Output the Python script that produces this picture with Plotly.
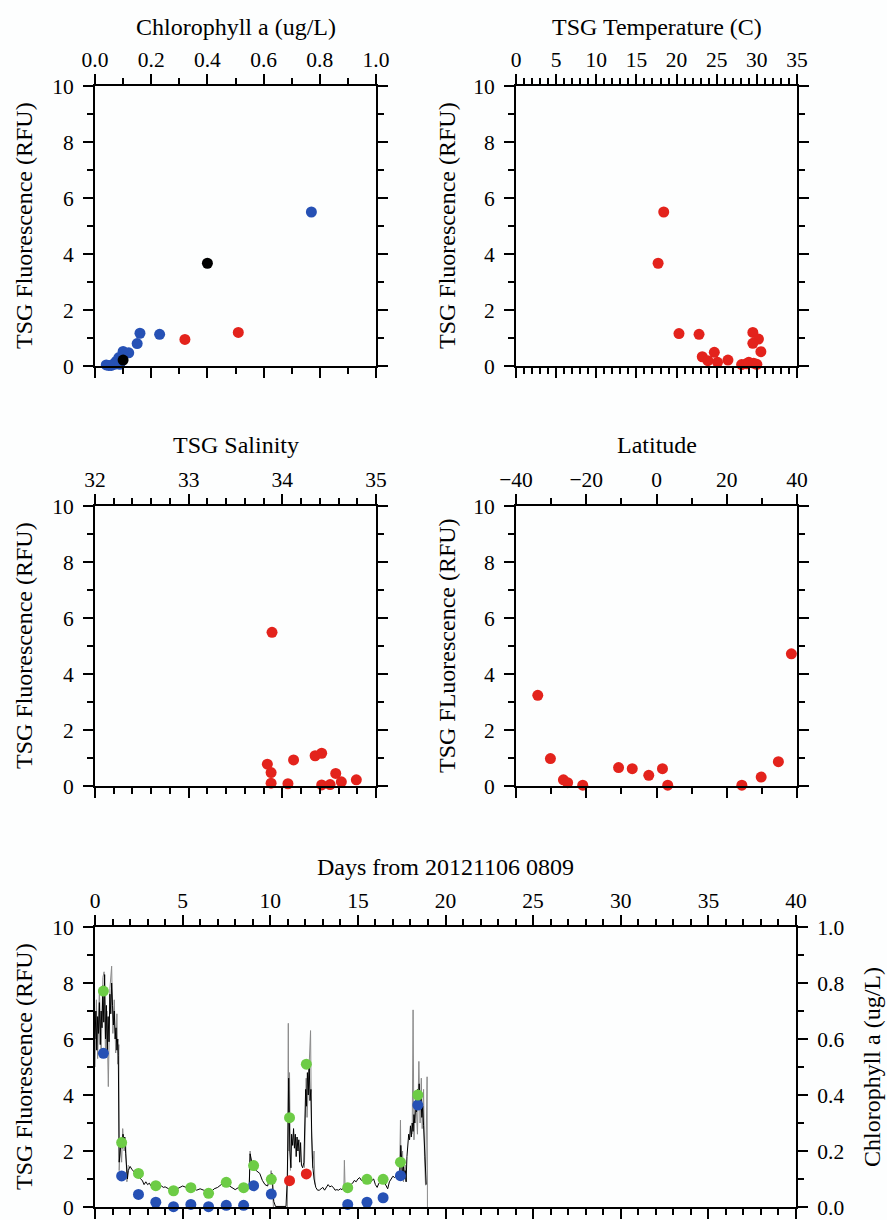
import plotly.graph_objects as go

# ---------------- data ----------------
# Panel 1: TSG fluorescence vs Chlorophyll a
p1_blue_chl = [0.77, 0.23, 0.16, 0.15, 0.12, 0.10, 0.085, 0.076, 0.069, 0.069, 0.058, 0.049, 0.088, 0.099, 0.04]
p1_blue_fl = [5.50, 1.13, 1.17, 0.80, 0.47, 0.52, 0.30, 0.17, 0.09, 0.06, 0.02, 0.02, 0.06, 0.33, 0.04]
p1_black_chl = [0.40, 0.10]
p1_black_fl = [3.67, 0.21]
p1_red_chl = [0.32, 0.51]
p1_red_fl = [0.95, 1.20]

# Panel 2: vs TSG temperature
p2_temp = [18.4, 17.7, 20.3, 22.8, 29.5, 30.2, 29.5, 30.5, 23.2, 24.7, 23.9, 25.1, 26.4, 28.1, 28.7, 29.0, 29.6, 30.0]
p2_fl = [5.50, 3.67, 1.16, 1.13, 1.20, 0.96, 0.81, 0.51, 0.33, 0.49, 0.19, 0.13, 0.21, 0.05, 0.08, 0.13, 0.10, 0.06]

# Panel 3: vs TSG salinity
p3_sal = [33.89, 33.84, 33.88, 33.88, 34.06, 34.12, 34.35, 34.42, 34.42, 34.51, 34.57, 34.63, 34.79]
p3_fl = [5.49, 0.78, 0.48, 0.10, 0.08, 0.93, 1.08, 1.17, 0.04, 0.05, 0.45, 0.15, 0.22]

# Panel 4: vs latitude
p4_lat = [-33.8, -30.2, -26.5, -25.3, -21.0, -10.8, -6.9, -2.2, 1.7, 3.2, 24.3, 29.8, 34.7, 38.4]
p4_fl = [3.24, 0.98, 0.22, 0.12, 0.03, 0.66, 0.62, 0.38, 0.62, 0.03, 0.03, 0.32, 0.87, 4.72]

# Bottom: time series
ts_day = [0.00, 0.05, 0.10, 0.15, 0.20, 0.25, 0.30, 0.35, 0.40, 0.45, 0.50, 0.55, 0.60, 0.65, 0.70,
          0.75, 0.80, 0.85, 0.90, 0.95, 1.00, 1.05, 1.10, 1.15, 1.20, 1.25, 1.30, 1.33, 1.38, 1.45,
          1.50, 1.55, 1.60, 1.65, 1.70, 1.75, 1.80, 1.85, 1.90, 2.00, 2.10, 2.20, 2.30, 2.40, 2.50,
          2.60, 2.70, 2.80, 2.90, 3.00, 3.10, 3.20, 3.30, 3.40, 3.50, 3.60, 3.70, 3.80, 3.90, 4.00,
          4.20, 4.40, 4.60, 4.80, 5.00, 5.20, 5.40, 5.60, 5.80, 6.00, 6.20, 6.40, 6.60, 6.80, 7.00,
          7.20, 7.40, 7.60, 7.80, 8.00, 8.20, 8.40, 8.60, 8.80, 8.85, 8.95, 9.05, 9.20, 9.40, 9.55,
          9.70, 9.85, 10.00, 10.10, 10.20, 10.30, 10.90, 10.97, 11.02, 11.05, 11.08, 11.12, 11.18, 11.22, 11.28,
          11.33, 11.38, 11.43, 11.48, 11.53, 11.58, 11.63, 11.68, 11.73, 11.78, 11.85, 11.92, 11.97, 12.02, 12.07,
          12.12, 12.17, 12.22, 12.27, 12.32, 12.37, 12.42, 12.50, 12.60, 12.70, 12.80, 12.90, 13.00, 13.10, 13.20,
          13.30, 13.40, 13.50, 13.60, 13.70, 13.80, 13.90, 14.00, 14.10, 14.20, 14.30, 14.40, 14.50, 14.60, 14.70,
          14.80, 14.90, 15.00, 15.10, 15.20, 15.30, 15.40, 15.50, 15.60, 15.70, 15.80, 15.90, 16.00, 16.10, 16.20,
          16.30, 16.40, 16.50, 16.60, 16.70, 16.80, 16.90, 17.00, 17.10, 17.20, 17.30, 17.40, 17.45, 17.50, 17.55,
          17.60, 17.65, 17.70, 17.75, 17.80, 17.85, 17.90, 17.95, 18.00, 18.05, 18.10, 18.15, 18.20, 18.25, 18.30,
          18.35, 18.40, 18.45, 18.50, 18.55, 18.60, 18.65, 18.70, 18.75, 18.80, 18.85, 18.90]
ts_fl = [6.0, 7.0, 5.6, 6.8, 6.2, 7.3, 5.8, 7.0, 6.4, 7.9, 6.6, 8.3, 6.0, 7.2, 5.5,
         6.8, 5.9, 7.6, 6.9, 8.0, 7.2, 6.5, 7.0, 6.0, 6.4, 5.6, 6.0, 5.4, 1.6, 2.0,
         2.4, 2.1, 2.6, 2.2, 2.5, 1.9, 1.2, 1.0, 1.3, 1.45, 1.35, 1.25, 1.2, 1.25, 1.1,
         1.0, 0.95, 0.8, 0.9, 0.8, 0.85, 0.75, 0.8, 0.85, 0.75, 0.8, 0.7, 0.75, 0.7, 0.72,
         0.65, 0.58, 0.62, 0.7, 0.75, 0.7, 0.72, 0.68, 0.6, 0.65, 0.6, 0.5, 0.52, 0.65, 0.7,
         0.8, 0.85, 0.78, 0.7, 0.62, 0.7, 0.75, 0.7, 0.72, 1.9, 1.6, 1.5, 1.3, 1.2, 0.95,
         0.8, 0.75, 1.1, 1.2, 0.2, 0.02, 0.02, 1.0, 3.0, 4.6, 3.5, 2.0, 1.4, 2.6, 2.2,
         2.8, 2.1, 2.6, 1.8, 2.5, 2.0, 2.4, 1.6, 2.3, 1.5, 1.4, 1.6, 3.0, 4.2, 3.6,
         4.8, 4.0, 5.2, 3.8, 4.2, 2.5, 1.5, 1.0, 0.7, 0.6, 0.6, 0.65, 0.7, 0.6, 0.7,
         0.8, 0.72, 0.75, 0.7, 0.6, 0.62, 0.6, 0.65, 0.62, 0.7, 0.68, 0.72, 0.7, 0.8, 0.85,
         0.95, 0.9, 1.0, 1.05, 0.95, 1.0, 1.05, 1.0, 0.9, 0.85, 0.95, 1.0, 0.8, 0.7, 0.85,
         0.95, 1.0, 0.9, 0.75, 0.65, 0.9, 1.0, 1.1, 1.05, 1.15, 1.2, 1.3, 2.2, 1.4, 1.1,
         1.5, 1.0, 1.3, 0.9, 1.8, 2.2, 2.6, 2.4, 2.9, 2.5, 3.0, 2.7, 3.3, 3.0, 3.8,
         3.4, 4.2, 3.7, 4.4, 3.5, 3.9, 3.2, 3.6, 2.9, 2.2, 1.2, 0.8]

# raw (gray) spikes, segments separated by None
raw_day = [0.0, 0.08, 0.15, 0.25, 0.35, 0.45, 0.52, 0.60, 0.68, 0.76, 0.85, 0.95, 1.02, 1.10, 1.18,
           1.25, 1.30, 1.36, 1.38, 1.45, 1.52, 1.58, 1.66, 1.75, 1.82, 1.90, None,
           8.80, 8.85, 8.90, None,
           10.00, 10.05, 10.12, 10.18, None,
           10.98, 11.03, 11.06, 11.10, 11.15, None,
           11.95, 12.05, 12.10, 12.20, 12.30, 12.35, 12.42, 12.50, 12.55, None,
           14.20, 14.23, 14.27, None,
           17.38, 17.43, 17.47, 17.55, 17.60, 17.70, 17.78, None,
           18.10, 18.15, 18.20, 18.30, 18.40, 18.48, 18.55, 18.62, 18.67, 18.75, 18.80, 18.86, 18.95, 18.97]
raw_fl = [5.0, 7.4, 5.3, 7.8, 5.5, 8.2, 8.4, 5.4, 7.0, 4.3, 7.8, 8.6, 6.2, 7.4, 5.5,
          6.9, 5.1, 5.8, 1.3, 2.2, 1.6, 2.8, 2.0, 2.3, 0.9, 1.5, None,
          0.7, 2.0, 1.4, None,
          1.0, 1.3, 0.8, 0.0, None,
          0.0, 6.56, 2.0, 4.8, 1.3, None,
          1.4, 4.6, 3.2, 5.0, 6.3, 2.8, 1.4, 2.0, 0.8, None,
          0.6, 1.67, 0.7, None,
          1.2, 3.1, 1.0, 2.0, 0.9, 1.5, 0.9, None,
          2.6, 7.04, 2.4, 4.0, 2.6, 5.2, 3.0, 4.6, 2.8, 4.2, 1.8, 0.78, 4.65, 0.0]

# discrete samples
smp_day = [0.48, 1.52, 2.48, 3.47, 4.48, 5.47, 6.48, 7.49, 8.48, 9.05, 10.06, 11.10, 12.06,
           14.42, 15.52, 16.44, 17.43, 18.42]
smp_chl = [0.771, 0.230, 0.120, 0.076, 0.058, 0.069, 0.049, 0.088, 0.069, 0.148, 0.099, 0.319, 0.510,
           0.069, 0.099, 0.099, 0.160, 0.400]
blue_day = [0.48, 1.52, 2.48, 3.47, 4.48, 5.47, 6.48, 7.49, 8.48, 9.05, 10.06, 14.42, 15.52, 16.44, 17.43, 18.42]
blue_fl = [5.49, 1.11, 0.45, 0.17, 0.01, 0.09, 0.01, 0.06, 0.06, 0.76, 0.46, 0.09, 0.17, 0.33, 1.12, 3.64]
red_day = [11.10, 12.06]
red_fl = [0.94, 1.18]

# ---------------- style ----------------
FONT = "Liberation Serif"
BLUE = "#2651b5"
RED = "#e3231c"
GREEN = "#6dcc46"
MS = 11
W, H = 887, 1220


def px(x0, x1):
    return [x0 / W, x1 / W]


def py(top, bottom):
    return [1 - bottom / H, 1 - top / H]


def axis_style(**kw):
    d = dict(showline=True, linecolor="black", linewidth=2, ticks="outside", ticklen=10,
             tickwidth=2, tickcolor="black", mirror="ticks", showgrid=False, zeroline=False,
             automargin=False,
             tickfont=dict(family=FONT, size=21.5, color="black"),
             minor=dict(ticks="outside", ticklen=6, tickwidth=1.5, tickcolor="black", showgrid=False))
    minor_dtick = kw.pop("minor_dtick", None)
    if minor_dtick is not None:
        d["minor"]["dtick"] = minor_dtick
    d.update(kw)
    return d


fig = go.Figure()


def scat(x, y, color, xa, ya):
    fig.add_trace(go.Scatter(x=x, y=y, mode="markers", xaxis=xa, yaxis=ya, cliponaxis=False,
                             marker=dict(size=MS, color=color, line=dict(width=0)), showlegend=False))


# panel 1
scat(p1_blue_chl, p1_blue_fl, BLUE, "x", "y")
scat(p1_red_chl, p1_red_fl, RED, "x", "y")
scat(p1_black_chl, p1_black_fl, "black", "x", "y")
# panel 2
scat(p2_temp, p2_fl, RED, "x2", "y2")
# panel 3
scat(p3_sal, p3_fl, RED, "x3", "y3")
# panel 4
scat(p4_lat, p4_fl, RED, "x4", "y4")
# bottom
fig.add_trace(go.Scatter(x=raw_day, y=raw_fl, mode="lines", xaxis="x5", yaxis="y5",
                         line=dict(color="#8a8a8a", width=1), connectgaps=False, showlegend=False))
fig.add_trace(go.Scatter(x=ts_day, y=ts_fl, mode="lines", xaxis="x5", yaxis="y5",
                         line=dict(color="black", width=1), showlegend=False))
fig.add_trace(go.Scatter(x=smp_day, y=smp_chl, mode="markers", xaxis="x5", yaxis="y6", cliponaxis=False,
                         marker=dict(size=MS, color=GREEN), showlegend=False))
scat(blue_day, blue_fl, BLUE, "x5", "y5")
scat(red_day, red_fl, RED, "x5", "y5")

top_row = py(86, 366)
mid_row = py(506, 786)
bot_row = py(927, 1207)
left_col = px(95, 376)
right_col = px(516, 797)

XSO = -2   # standoff of top tick labels
YSO = 5    # standoff of side tick labels

fig.update_layout(
    width=W, height=H, margin=dict(l=0, r=0, t=0, b=0, pad=0, autoexpand=False),
    paper_bgcolor="#fdfefe", plot_bgcolor="#fdfefe",
    font=dict(family=FONT, color="black"),
    xaxis=axis_style(domain=left_col, anchor="y", side="top", range=[0, 1], dtick=0.2, tick0=0,
                     tickformat=".1f", minor_dtick=0.1, ticklabelstandoff=XSO),
    yaxis=axis_style(domain=top_row, anchor="x", range=[0, 10], dtick=2, tick0=0, minor_dtick=1,
                     ticklabelstandoff=YSO),
    xaxis2=axis_style(domain=right_col, anchor="y2", side="top", range=[0, 35], dtick=5, tick0=0,
                      minor_dtick=1, ticklabelstandoff=XSO),
    yaxis2=axis_style(domain=top_row, anchor="x2", range=[0, 10], dtick=2, tick0=0, minor_dtick=1,
                      ticklabelstandoff=YSO),
    xaxis3=axis_style(domain=left_col, anchor="y3", side="top", range=[32, 35], dtick=1, tick0=32,
                      minor_dtick=0.2, ticklabelstandoff=XSO),
    yaxis3=axis_style(domain=mid_row, anchor="x3", range=[0, 10], dtick=2, tick0=0, minor_dtick=1,
                      ticklabelstandoff=YSO),
    xaxis4=axis_style(domain=right_col, anchor="y4", side="top", range=[-40, 40], dtick=20, tick0=0,
                      minor_dtick=10, ticklabelstandoff=XSO),
    yaxis4=axis_style(domain=mid_row, anchor="x4", range=[0, 10], dtick=2, tick0=0, minor_dtick=1,
                      ticklabelstandoff=YSO),
    xaxis5=axis_style(domain=px(95, 796), anchor="y5", side="top", range=[0, 40], dtick=5, tick0=0,
                      minor_dtick=1, ticklabelstandoff=XSO),
    yaxis5=axis_style(domain=bot_row, anchor="x5", range=[0, 10], dtick=2, tick0=0, minor_dtick=1,
                      mirror=False, ticklabelstandoff=YSO),
    yaxis6=axis_style(domain=bot_row, anchor="x5", overlaying="y5", side="right", range=[0, 1],
                      dtick=0.2, tick0=0, tickformat=".1f", minor_dtick=0.1, mirror=False,
                      ticklabelstandoff=YSO),
)

ann_font = dict(family=FONT, size=24, color="black")
annotations = [
    ("Chlorophyll a (ug/L)", 235.5, 27, 0),
    ("TSG Temperature (C)", 656.5, 27, 0),
    ("TSG Salinity", 235.5, 445, 0),
    ("Latitude", 656.5, 445, 0),
    ("Days from 20121106 0809", 445.5, 867, 0),
    ("TSG Fluorescence (RFU)", 24, 226, -90),
    ("TSG Fluorescence (RFU)", 447, 226, -90),
    ("TSG Fluorescence (RFU)", 24, 646, -90),
    ("TSG FLuorescence (RFU)", 447, 646, -90),
    ("TSG Fluorescence (RFU)", 24, 1067, -90),
    ("Chlorophyll a (ug/L)", 872, 1067, -90),
]
for text, x, y, ang in annotations:
    fig.add_annotation(text=text, x=x / W, y=1 - y / H, xref="paper", yref="paper",
                       xanchor="center", yanchor="middle", showarrow=False, textangle=ang,
                       font=ann_font)

fig.write_html("out.html", config={"displayModeBar": False},
               post_script="document.body.style.margin='0px';document.body.style.overflow='hidden';")
